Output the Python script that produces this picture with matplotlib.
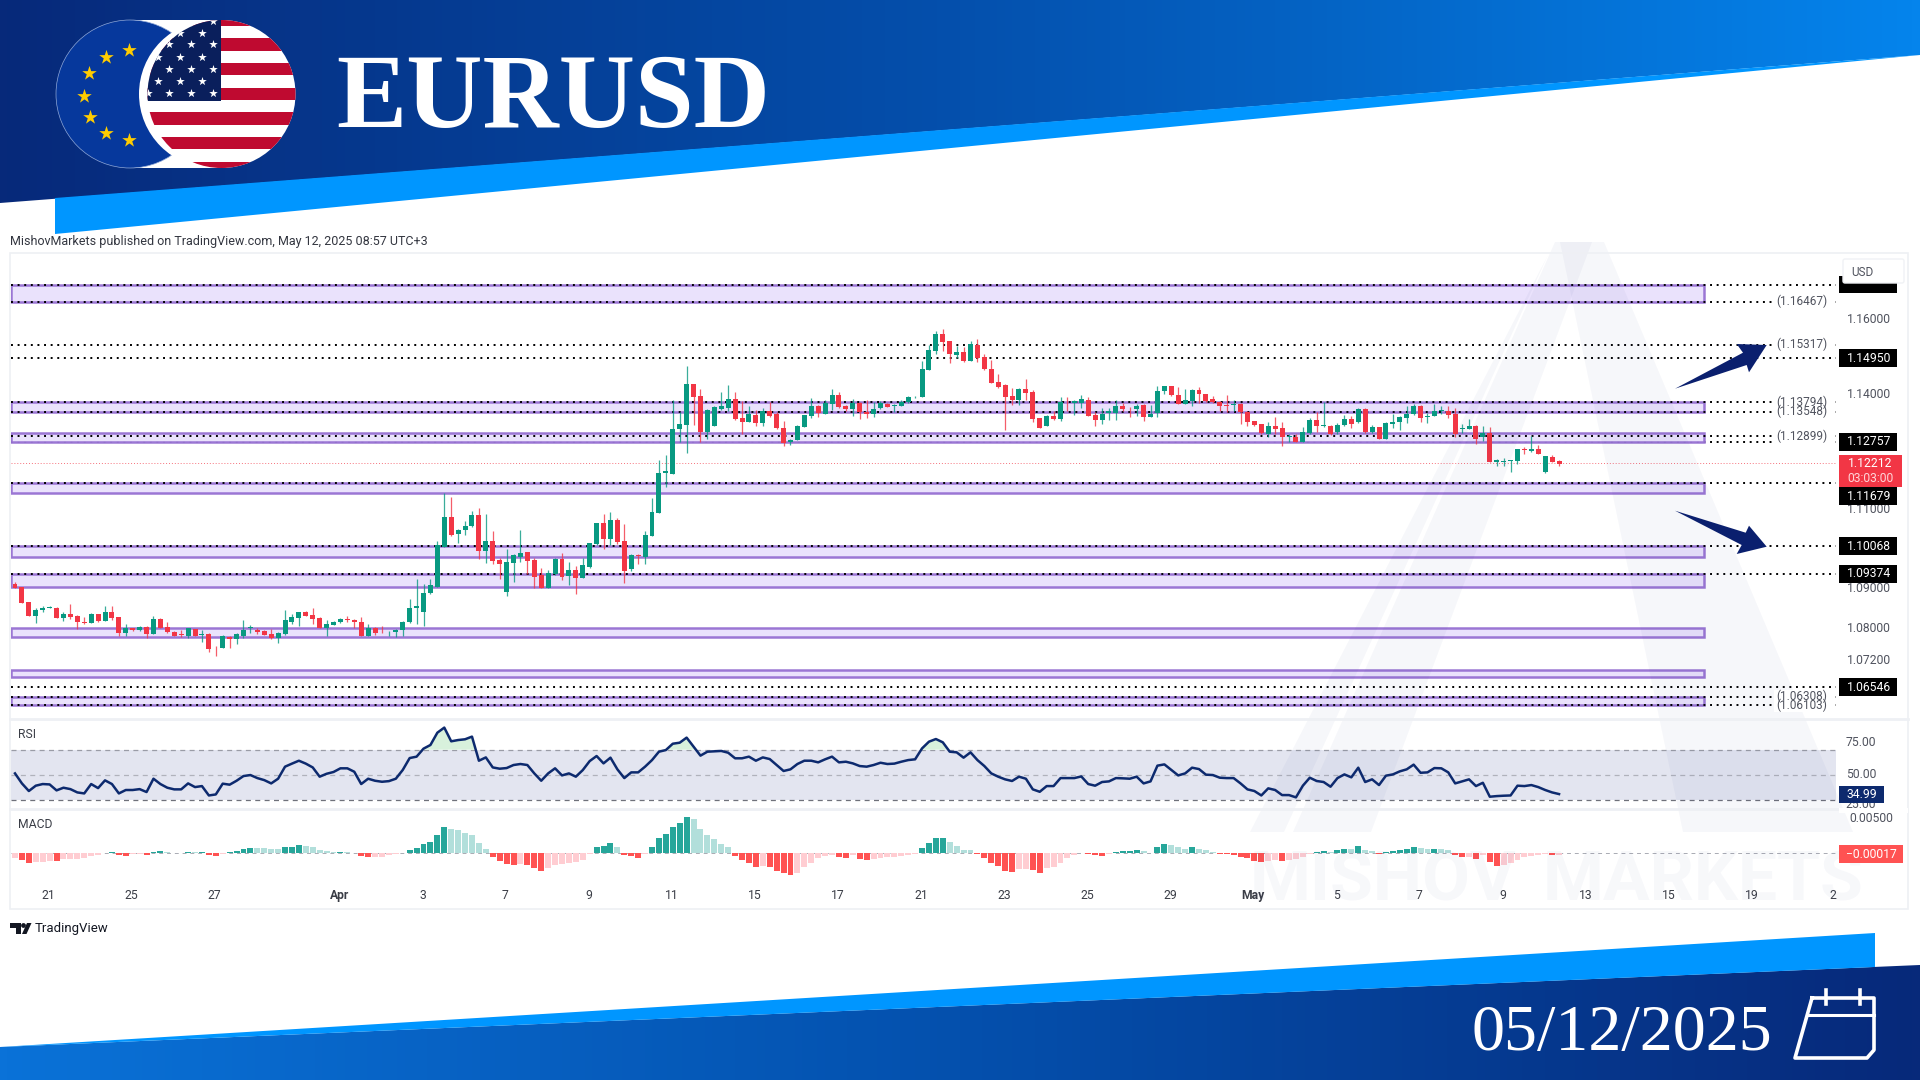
import numpy as np
import matplotlib
matplotlib.use("Agg")
import matplotlib.pyplot as plt
from matplotlib.colors import LinearSegmentedColormap
from matplotlib.patches import Polygon, Rectangle, Circle, FancyBboxPatch

plt.rcParams['font.family'] = ['Roboto', 'DejaVu Sans']

# 4h candles
opens = [
    1.0911, 1.0903, 1.0866, 1.0832, 1.0845, 1.0852, 1.0852, 1.0827, 1.0836, 1.0832,
    1.0817, 1.0813, 1.0836, 1.0819, 1.0842, 1.0828, 1.0789, 1.0800, 1.0797, 1.0804,
    1.0787, 1.0823, 1.0804, 1.0791, 1.0786, 1.0781, 1.0798, 1.0784, 1.0787, 1.0756,
    1.0752, 1.0779, 1.0773, 1.0780, 1.0800, 1.0797, 1.0794, 1.0786, 1.0777, 1.0786,
    1.0817, 1.0825, 1.0842, 1.0834, 1.0826, 1.0801, 1.0809, 1.0815, 1.0823, 1.0822,
    1.0815, 1.0782, 1.0801, 1.0792, 1.0790, 1.0790, 1.0795, 1.0815, 1.0852, 1.0842,
    1.0888, 1.0904, 1.1005, 1.1081, 1.1037, 1.1049, 1.1058, 1.1087, 1.0994, 1.1019,
    1.0972, 1.0890, 1.0965, 1.0980, 1.0991, 1.0972, 1.0933, 1.0902, 1.0936, 1.0975,
    1.0932, 1.0946, 1.0927, 1.0953, 1.1012, 1.1067, 1.1026, 1.1073, 1.1019, 1.0948,
    1.0985, 1.0980, 1.1034, 1.1092, 1.1194, 1.1191, 1.1308, 1.1319, 1.1428, 1.1396,
    1.1302, 1.1318, 1.1362, 1.1363, 1.1388, 1.1337, 1.1327, 1.1346, 1.1324, 1.1357,
    1.1347, 1.1312, 1.1276, 1.1281, 1.1314, 1.1343, 1.1369, 1.1349, 1.1374, 1.1399,
    1.1369, 1.1361, 1.1378, 1.1354, 1.1347, 1.1364, 1.1375, 1.1370, 1.1370, 1.1380,
    1.1393, 1.1394, 1.1465, 1.1515, 1.1559, 1.1541, 1.1505, 1.1513, 1.1488, 1.1531,
    1.1499, 1.1468, 1.1433, 1.1425, 1.1396, 1.1386, 1.1413, 1.1405, 1.1338, 1.1317,
    1.1343, 1.1334, 1.1380, 1.1378, 1.1377, 1.1385, 1.1346, 1.1332, 1.1352, 1.1350,
    1.1369, 1.1365, 1.1361, 1.1372, 1.1341, 1.1350, 1.1409, 1.1421, 1.1399, 1.1375,
    1.1382, 1.1411, 1.1401, 1.1388, 1.1381, 1.1372, 1.1372, 1.1375, 1.1354, 1.1330,
    1.1321, 1.1297, 1.1318, 1.1312, 1.1288, 1.1288, 1.1276, 1.1298, 1.1332, 1.1316,
    1.1318, 1.1302, 1.1319, 1.1335, 1.1326, 1.1361, 1.1300, 1.1313, 1.1283, 1.1321,
    1.1326, 1.1339, 1.1348, 1.1369, 1.1340, 1.1342, 1.1357, 1.1357, 1.1348, 1.1309,
    1.1309, 1.1317, 1.1287, 1.1298, 1.1224, 1.1224, 1.1226, 1.1225, 1.1256, 1.1251,
    1.1258, 1.1198, 1.1237, 1.1225,
]
closes = [
    1.0902, 1.0864, 1.0832, 1.0847, 1.0852, 1.0853, 1.0827, 1.0836, 1.0828, 1.0816,
    1.0813, 1.0836, 1.0819, 1.0841, 1.0826, 1.0789, 1.0801, 1.0797, 1.0803, 1.0787,
    1.0823, 1.0802, 1.0790, 1.0782, 1.0784, 1.0800, 1.0782, 1.0786, 1.0748, 1.0755,
    1.0782, 1.0773, 1.0786, 1.0797, 1.0803, 1.0792, 1.0784, 1.0776, 1.0789, 1.0820,
    1.0829, 1.0842, 1.0831, 1.0824, 1.0801, 1.0810, 1.0815, 1.0824, 1.0821, 1.0815,
    1.0781, 1.0800, 1.0789, 1.0790, 1.0792, 1.0797, 1.0817, 1.0852, 1.0855, 1.0889,
    1.0908, 1.1009, 1.1081, 1.1036, 1.1049, 1.1059, 1.1087, 1.0994, 1.1019, 1.0970,
    1.0962, 1.0966, 1.0985, 1.0990, 1.0970, 1.0930, 1.0902, 1.0938, 1.0975, 1.0930,
    1.0947, 1.0927, 1.0958, 1.1014, 1.1067, 1.1026, 1.1073, 1.1017, 1.0945, 1.0985,
    1.0981, 1.1035, 1.1094, 1.1195, 1.1201, 1.1310, 1.1321, 1.1428, 1.1394, 1.1302,
    1.1359, 1.1366, 1.1368, 1.1388, 1.1334, 1.1327, 1.1348, 1.1324, 1.1357, 1.1344,
    1.1311, 1.1272, 1.1280, 1.1316, 1.1346, 1.1370, 1.1350, 1.1377, 1.1399, 1.1367,
    1.1361, 1.1378, 1.1354, 1.1347, 1.1362, 1.1377, 1.1367, 1.1371, 1.1381, 1.1394,
    1.1394, 1.1466, 1.1516, 1.1559, 1.1539, 1.1506, 1.1512, 1.1488, 1.1532, 1.1497,
    1.1466, 1.1431, 1.1419, 1.1394, 1.1386, 1.1414, 1.1403, 1.1335, 1.1312, 1.1343,
    1.1334, 1.1380, 1.1379, 1.1382, 1.1388, 1.1344, 1.1333, 1.1348, 1.1355, 1.1368,
    1.1362, 1.1363, 1.1370, 1.1341, 1.1348, 1.1410, 1.1421, 1.1397, 1.1375, 1.1385,
    1.1411, 1.1400, 1.1382, 1.1379, 1.1369, 1.1370, 1.1374, 1.1354, 1.1326, 1.1319,
    1.1298, 1.1318, 1.1310, 1.1289, 1.1290, 1.1275, 1.1300, 1.1333, 1.1318, 1.1319,
    1.1295, 1.1320, 1.1336, 1.1321, 1.1361, 1.1300, 1.1313, 1.1283, 1.1324, 1.1327,
    1.1341, 1.1348, 1.1368, 1.1339, 1.1342, 1.1356, 1.1359, 1.1346, 1.1297, 1.1311,
    1.1316, 1.1284, 1.1298, 1.1223, 1.1228, 1.1226, 1.1227, 1.1256, 1.1253, 1.1258,
    1.1245, 1.1238, 1.1224, 1.1217,
]
highs = [
    1.0915, 1.0903, 1.0866, 1.0852, 1.0856, 1.0857, 1.0854, 1.0842, 1.0860, 1.0834,
    1.0828, 1.0838, 1.0836, 1.0857, 1.0855, 1.0828, 1.0811, 1.0802, 1.0806, 1.0805,
    1.0830, 1.0825, 1.0815, 1.0793, 1.0796, 1.0800, 1.0798, 1.0797, 1.0789, 1.0757,
    1.0784, 1.0780, 1.0788, 1.0821, 1.0808, 1.0800, 1.0797, 1.0799, 1.0791, 1.0845,
    1.0835, 1.0842, 1.0844, 1.0850, 1.0828, 1.0821, 1.0819, 1.0826, 1.0830, 1.0823,
    1.0829, 1.0812, 1.0803, 1.0807, 1.0794, 1.0798, 1.0819, 1.0873, 1.0925, 1.0910,
    1.0925, 1.1020, 1.1143, 1.1133, 1.1050, 1.1071, 1.1097, 1.1105, 1.1089, 1.1045,
    1.0976, 1.1000, 1.0987, 1.1049, 1.0992, 1.0977, 1.0951, 1.0947, 1.0978, 1.0990,
    1.0966, 1.0956, 1.0977, 1.1016, 1.1067, 1.1089, 1.1094, 1.1080, 1.1063, 1.0986,
    1.0986, 1.1045, 1.1130, 1.1228, 1.1242, 1.1384, 1.1353, 1.1475, 1.1428, 1.1414,
    1.1361, 1.1368, 1.1407, 1.1424, 1.1407, 1.1382, 1.1370, 1.1359, 1.1363, 1.1379,
    1.1353, 1.1329, 1.1284, 1.1320, 1.1346, 1.1391, 1.1371, 1.1385, 1.1414, 1.1407,
    1.1371, 1.1388, 1.1381, 1.1385, 1.1379, 1.1383, 1.1377, 1.1375, 1.1385, 1.1396,
    1.1396, 1.1487, 1.1531, 1.1568, 1.1572, 1.1541, 1.1528, 1.1524, 1.1541, 1.1546,
    1.1506, 1.1491, 1.1454, 1.1427, 1.1416, 1.1416, 1.1441, 1.1412, 1.1339, 1.1346,
    1.1355, 1.1393, 1.1393, 1.1385, 1.1397, 1.1393, 1.1353, 1.1365, 1.1365, 1.1386,
    1.1378, 1.1366, 1.1374, 1.1374, 1.1372, 1.1421, 1.1423, 1.1421, 1.1420, 1.1414,
    1.1413, 1.1420, 1.1402, 1.1396, 1.1383, 1.1399, 1.1386, 1.1378, 1.1355, 1.1331,
    1.1322, 1.1328, 1.1340, 1.1326, 1.1296, 1.1296, 1.1315, 1.1337, 1.1353, 1.1381,
    1.1319, 1.1324, 1.1346, 1.1344, 1.1363, 1.1363, 1.1319, 1.1315, 1.1326, 1.1348,
    1.1344, 1.1368, 1.1374, 1.1371, 1.1351, 1.1374, 1.1370, 1.1370, 1.1365, 1.1321,
    1.1335, 1.1319, 1.1318, 1.1315, 1.1230, 1.1233, 1.1228, 1.1258, 1.1262, 1.1290,
    1.1267, 1.1239, 1.1241, 1.1227,
]
lows = [
    1.0901, 1.0864, 1.0832, 1.0813, 1.0841, 1.0850, 1.0826, 1.0819, 1.0824, 1.0798,
    1.0811, 1.0813, 1.0816, 1.0819, 1.0822, 1.0782, 1.0782, 1.0794, 1.0794, 1.0776,
    1.0787, 1.0800, 1.0789, 1.0781, 1.0778, 1.0776, 1.0782, 1.0766, 1.0742, 1.0732,
    1.0752, 1.0752, 1.0760, 1.0777, 1.0789, 1.0787, 1.0783, 1.0774, 1.0763, 1.0784,
    1.0811, 1.0805, 1.0830, 1.0810, 1.0800, 1.0782, 1.0808, 1.0813, 1.0815, 1.0800,
    1.0780, 1.0781, 1.0783, 1.0789, 1.0782, 1.0779, 1.0782, 1.0814, 1.0810, 1.0805,
    1.0887, 1.0904, 1.1005, 1.1032, 1.1014, 1.1036, 1.1057, 1.0975, 1.0965, 1.0961,
    1.0923, 1.0882, 1.0917, 1.0967, 1.0936, 1.0900, 1.0900, 1.0901, 1.0934, 1.0922,
    1.0909, 1.0886, 1.0926, 1.0952, 1.1011, 1.1001, 1.1010, 1.1012, 1.0913, 1.0944,
    1.0963, 1.0963, 1.1034, 1.1091, 1.1159, 1.1191, 1.1275, 1.1246, 1.1319, 1.1276,
    1.1282, 1.1318, 1.1359, 1.1356, 1.1333, 1.1296, 1.1326, 1.1317, 1.1317, 1.1341,
    1.1309, 1.1265, 1.1267, 1.1280, 1.1313, 1.1339, 1.1341, 1.1348, 1.1359, 1.1363,
    1.1357, 1.1344, 1.1335, 1.1338, 1.1341, 1.1362, 1.1366, 1.1354, 1.1368, 1.1378,
    1.1391, 1.1394, 1.1463, 1.1506, 1.1515, 1.1482, 1.1495, 1.1485, 1.1487, 1.1485,
    1.1465, 1.1429, 1.1417, 1.1307, 1.1372, 1.1372, 1.1385, 1.1328, 1.1311, 1.1317,
    1.1333, 1.1330, 1.1355, 1.1346, 1.1363, 1.1344, 1.1317, 1.1321, 1.1333, 1.1333,
    1.1356, 1.1340, 1.1344, 1.1330, 1.1340, 1.1340, 1.1402, 1.1396, 1.1374, 1.1375,
    1.1369, 1.1376, 1.1380, 1.1377, 1.1355, 1.1353, 1.1355, 1.1321, 1.1318, 1.1318,
    1.1297, 1.1288, 1.1295, 1.1264, 1.1276, 1.1274, 1.1276, 1.1297, 1.1302, 1.1314,
    1.1293, 1.1295, 1.1318, 1.1311, 1.1325, 1.1298, 1.1298, 1.1282, 1.1282, 1.1312,
    1.1306, 1.1324, 1.1346, 1.1326, 1.1325, 1.1342, 1.1348, 1.1338, 1.1289, 1.1298,
    1.1308, 1.1270, 1.1278, 1.1222, 1.1212, 1.1214, 1.1196, 1.1219, 1.1244, 1.1250,
    1.1244, 1.1194, 1.1223, 1.1213,
]

rsi_values = [
    51.3, 43.4, 37.4, 41.6, 42.9, 42.6, 37.9, 40.0, 38.9, 36.3,
    35.5, 42.9, 39.7, 45.8, 42.9, 35.5, 38.2, 38.2, 38.9, 36.6,
    47.1, 42.9, 40.0, 38.7, 38.7, 43.4, 40.5, 41.3, 33.9, 34.7,
    43.2, 42.4, 45.5, 49.2, 50.0, 47.6, 46.0, 43.4, 47.1, 56.6,
    59.0, 61.3, 59.0, 56.0, 48.7, 51.0, 52.4, 55.3, 55.3, 52.6,
    42.9, 47.1, 45.5, 44.7, 45.2, 47.1, 54.0, 63.4, 64.5, 70.8,
    73.7, 83.4, 87.4, 76.6, 77.6, 78.2, 80.3, 61.3, 63.9, 56.0,
    55.0, 55.5, 57.9, 58.7,
    57.9, 51.3, 45.5, 51.3, 55.3, 49.7, 51.3, 48.7, 53.9, 61.0,
    65.0, 59.2, 63.7, 54.5, 47.6, 52.1, 52.1, 56.6, 61.8, 68.4,
    69.7, 74.7, 75.5, 79.5, 72.4, 65.3, 68.4, 68.7, 69.0, 67.6,
    63.2, 63.2, 64.5, 61.3, 63.9, 62.6, 57.9, 53.2, 54.5, 58.7,
    61.3, 61.3, 60.0, 62.4, 64.5, 60.0, 60.5, 59.2, 57.1, 56.6,
    57.9, 59.7, 58.7, 59.0, 60.5, 61.8, 62.4, 71.0, 76.3, 78.4,
    75.8, 68.4, 67.9, 63.7, 67.9, 61.8, 57.1, 51.3, 48.7,
    46.6, 45.3, 48.7, 47.1, 38.7, 36.8, 41.3, 41.3, 47.6, 47.6,
    47.6, 48.9, 42.9, 41.6, 44.5, 45.0, 47.6, 47.4, 47.1, 48.7,
    43.4, 45.0, 57.4, 58.4, 54.0, 49.7, 51.3, 55.8, 54.7, 50.3,
    50.0, 47.9, 47.6, 47.6, 43.4, 38.7, 37.4, 33.9, 39.5, 38.2,
    34.2, 34.2, 32.4, 41.6, 47.9, 45.3, 44.5, 40.8, 47.6, 50.5,
    48.2, 55.8, 44.5, 46.6, 42.1, 49.5, 50.5, 52.9, 54.5, 58.2,
    51.8, 52.1, 55.5, 55.3, 52.1, 43.4, 45.0, 46.6, 41.3, 43.9,
    32.9, 33.4, 33.7, 33.9, 41.6, 41.3, 42.1, 40.5, 38.2, 36.3,
    34.99,
]

# MACD histogram in units of 0.00001
macd_hist = [
    -70, -100, -150, -135, -125, -110, -120, -90, -85, -80,
    -75, -40, -30, 10, 20, -25, -35, -10, -5, -25,
    20, 40, 15, 5, 3, 25, 20, 25, -20, -35,
    -5, 20, 40, 70, 85, 75, 75, 60, 60, 90,
    100, 120, 110, 90, 50, 35, 20, 25, 15, 5,
    -35, -50, -50, -50, -25, -15, 5, 55, 85, 135,
    170, 275, 390, 370, 350, 310, 280, 150, 70, -50,
    -110, -165, -170, -165, -170, -215, -260, -225, -175, -165,
    -150, -135, -100, -15, 100, 105, 150, 100, -25, -45,
    -65, -5, 90, 225, 290, 390, 460, 540, 510, 360,
    275, 210, 140, 90, -35, -100, -150, -200, -190, -210,
    -260, -300, -325, -300,
    -210, -140, -75, -40, -20, -50, -65, -30, -80, -100,
    -85, -70, -60, -50, -40, -25, -10, 75, 150, 230,
    235, 175, 110, 50, 50, -10, -75, -140, -190,
    -260, -275, -230, -230, -250, -290, -225, -210, -150, -75,
    -25, 0, -15, -30, -35, -15, 20, 35, 40, 50,
    30, 10, 90, 135, 125, 90, 70, 90, 65, 45,
    15, -5, -15, -25, -50, -75, -110, -130, -110, -100,
    -120, -100, -80, -50, -10, 15, 35, 25, 50, 65,
    65, 105, 50, 30, -10, 20, 40, 55, 70, 100,
    85, 65, 70, 65, 45, -20, -55, -55, -85, -25,
    -130, -185, -180, -150, -100, -60, -35, -25, -10, -30,
    -30,
]

# purple zones (upper, lower price)
zones = [
    (1.1691, 1.16467), (1.13794, 1.13548), (1.12985, 1.12757), (1.11679, 1.11422),
    (1.10068, 1.09787), (1.09374, 1.09044), (1.08016, 1.07792), (1.06966, 1.06785),
    (1.06308, 1.06103),
]
dotted_levels = [1.1691, 1.16467, 1.15317, 1.14950, 1.13794, 1.13548, 1.12899,
                 1.11679, 1.10068, 1.09374, 1.06546, 1.06308, 1.06103]
grey_levels = [1.16467, 1.15317, 1.13794, 1.13548, 1.12899, 1.06308, 1.06103]
black_levels = [1.14950, 1.12757, 1.10068, 1.09374, 1.06546]
axis_prices = [1.16, 1.14, 1.12, 1.11, 1.09, 1.08, 1.072]
last_price = 1.12212
pushed_level = 1.11679

tick_pos = [4.84, 16.84, 28.84, 46.84, 58.84, 70.84, 82.84, 94.84, 106.84, 118.84, 130.84,
            142.84, 154.84, 166.84, 178.84, 190.84, 202.84, 214.84, 226.84, 238.84, 250.84, 262.5]
tick_labels = ['21', '25', '27', 'Apr', '3', '7', '9', '11', '15', '17', '21',
               '23', '25', '29', 'May', '5', '7', '9', '13', '15', '19', '2']

GREEN = '#089981'
RED = '#f23645'
GREY = '#50535e'
NAVY = '#0d2a6e'
W, H = 1920, 1080

fig = plt.figure(figsize=(19.2, 10.8), dpi=100, facecolor='white')


def px_axes(left, top, right, bottom, z):
    a = fig.add_axes([left / W, 1 - bottom / H, (right - left) / W, (bottom - top) / H], zorder=z)
    a.patch.set_visible(False)
    return a


XLIM = (-0.578, 263.0)
ZONE_END = 243.9

# main pane
ax = px_axes(11, 253, 1836, 718, 1)
ax.set_yscale('log')
ax.set_xlim(*XLIM)
ax.set_ylim(1.05786, 1.17783)
ax.axis('off')

ax.hlines(1.12757, *XLIM, colors='black', linestyles=(0, (1, 2.4)), lw=1.4, zorder=2)
for top, bottom in zones:
    ax.add_patch(Rectangle((XLIM[0], bottom), ZONE_END - XLIM[0], top - bottom, fc='#e9e1fc',
                           ec='#9670d2', lw=1.8, alpha=0.95, zorder=2.5))
ax.hlines(dotted_levels, *XLIM, colors='black', linestyles=(0, (1, 2.4)), lw=1.4, zorder=3)
ax.hlines(last_price, *XLIM, colors=RED, linestyles=(0, (1, 2)), lw=0.7, alpha=0.7, zorder=3)

# candles
idx = np.arange(len(opens))
o = np.array(opens)
c = np.array(closes)
colors = [GREEN if c_ >= o_ else RED for o_, c_ in zip(o, c)]
ax.vlines(idx, lows, highs, colors=colors, lw=0.9, alpha=0.8, zorder=4)
ax.bar(idx, np.abs(c - o), bottom=np.minimum(o, c), width=0.72, color=colors, lw=0, zorder=5)

# RSI pane
ax_rsi = px_axes(11, 720, 1836, 807, 2)
ax_rsi.set_xlim(*XLIM)
ax_rsi.set_ylim(24.8, 93.4)
ax_rsi.axis('off')
ax_rsi.axhspan(30, 70, fc='#e3e5f0', lw=0, zorder=1)
for lvl, col in [(70, '#9a9ca6'), (50, '#b0b2bb'), (30, '#6f717a')]:
    ax_rsi.axhline(lvl, color=col, lw=0.9, ls=(0, (4, 3.5)), zorder=2)
rsi = np.array(rsi_values)
x_rsi = np.arange(len(rsi))
ax_rsi.fill_between(x_rsi, 70, rsi, where=rsi > 70, interpolate=True, color='#d8f1dc', lw=0, zorder=2)
ax_rsi.plot(x_rsi, rsi, color=NAVY, lw=1.8, zorder=3)

# MACD pane, with the time axis under it
ax_macd = px_axes(11, 811, 1836, 886, 3)
ax_macd.set_xlim(*XLIM)
ax_macd.set_ylim(-0.0049, 0.006345)
for side in ax_macd.spines.values():
    side.set_visible(False)
ax_macd.set_yticks([])
ax_macd.set_xticks(tick_pos)
ax_macd.set_xticklabels(tick_labels, fontsize=8.7, color='#3a3d46')
ax_macd.tick_params(axis='x', length=0, pad=2.5)
for lab in ax_macd.get_xticklabels():
    if lab.get_text() in ('Apr', 'May'):
        lab.set_fontweight('bold')
ax_macd.axhline(0, color='#a9abb3', lw=0.7, ls=(0, (4, 4)), zorder=1)

hist = np.array(macd_hist) * 1e-5
bar_colors = []
for i, h in enumerate(hist):
    prev = hist[i - 1] if i > 0 else h
    if h >= 0:
        bar_colors.append('#26a69a' if h > prev else '#b2dfdb')
    else:
        bar_colors.append('#ff5252' if h < prev else '#ffcdd2')
ax_macd.bar(np.arange(len(hist)), hist, width=0.86, color=bar_colors, lw=0, zorder=2)

# everything else goes on a pixel overlay
ov = fig.add_axes([0, 0, 1, 1], zorder=10)
ov.patch.set_visible(False)
ov.axis('off')


def gradient(verts, colors_, z):
    cmap = LinearSegmentedColormap.from_list('g', colors_)
    patch = Polygon(verts, transform=ov.transData, fc='none', ec='none')
    ov.add_patch(patch)
    ys = [v[1] for v in verts]
    im = ov.imshow(np.linspace(0, 1, 512).reshape(1, -1), cmap=cmap, aspect='auto',
                   extent=[0, W, max(ys), min(ys)], zorder=z)
    im.set_clip_path(patch)


gradient([(0, 0), (W, 0), (W, 55), (0, 203)], ['#07297a', '#0450ad', '#0584ec'], 1)
ov.add_patch(Polygon([(55, 198), (W, 55), (55, 234)], fc='#0096ff', ec='none', zorder=1))
gradient([(0, 1047), (W, 965), (W, H), (0, H)], ['#0a72d8', '#0450ad', '#07297a'], 1)
ov.add_patch(Polygon([(0, 1047), (1875, 933), (1875, 967)], fc='#0096ff', ec='none', zorder=1))
ov.set_xlim(0, W)
ov.set_ylim(H, 0)

# flags
ov.add_patch(Rectangle((130, 20), 91, 148, fc='white', ec='none', zorder=2))
ov.add_patch(Circle((130, 94), 74, fc='#06389c', ec='#8fa8d8', lw=0.5, zorder=3))
eu_stars = [(129, 50), (106, 57), (89, 73), (84, 96), (90, 117), (106, 133), (129, 140)]
ov.scatter(*zip(*eu_stars), marker='*', s=120, c='#ffcc00', lw=0, zorder=3.5)
ov.add_patch(Circle((213, 94), 74, fc='white', ec='none', zorder=4))
us_clip = Circle((221.5, 94), 74, transform=ov.transData, fc='white', ec='none', zorder=5)
ov.add_patch(us_clip)
for k in range(13):
    if k % 2 == 0:
        r = ov.add_patch(Rectangle((140, 20 + (k - 0.5) * 12.33), 170, 12.33, fc='#bf0a30', ec='none', zorder=5.1))
        r.set_clip_path(us_clip)
cant = ov.add_patch(Rectangle((140, 15), 81, 86, fc='#0a1f5c', ec='none', zorder=5.2))
cant.set_clip_path(us_clip)
us_stars = [(213, 21), (180, 33), (202, 33), (169, 44), (191, 44), (213, 44), (158, 57), (180, 57), (202, 57),
            (169, 69), (191, 69), (213, 69), (158, 81), (180, 81), (202, 81), (148, 93), (169, 93), (191, 93), (213, 93)]
sc = ov.scatter(*zip(*us_stars), marker='*', s=42, c='white', lw=0, zorder=5.3)
sc.set_clip_path(us_clip)

ov.text(336, 101, 'EURUSD', family='Liberation Serif', weight='bold', fontsize=76, color='white',
        va='center', ha='left', zorder=6)
ov.text(1472, 1034, '05/12/2025', family='Liberation Serif', fontsize=47.5, color='white',
        va='center', ha='left', zorder=6)

# calendar icon
ov.plot([1812, 1874, 1874, 1867, 1795, 1812], [998, 998, 1050, 1058, 1058, 998], color='white', lw=2.6, zorder=6,
        solid_joinstyle='round')
ov.plot([1808, 1874], [1015, 1015], color='white', lw=2.2, zorder=6)
ov.plot([1826, 1826], [990, 1004], color='white', lw=2.6, zorder=6)
ov.plot([1860, 1860], [990, 1004], color='white', lw=2.6, zorder=6)

# watermark over the panes
WM = '#2a3a8a'
for pts in [
    [(1555, 242), (1592, 242), (1371, 832), (1293, 832)],
    [(1548, 255), (1284, 832), (1250, 832)],
    [(1560, 242), (1604, 242), (1853, 832), (1683, 832)],
]:
    ov.add_patch(Polygon(pts, fc=WM, ec='none', alpha=0.04, zorder=2))
ov.text(1250, 882, 'MISHOV', weight='bold', fontsize=50, color=WM, alpha=0.035, va='center', ha='left', zorder=2)
ov.text(1543, 882, 'MARKETS', weight='bold', fontsize=50, color=WM, alpha=0.035, va='center', ha='left', zorder=2)

# pane frame and separators
FRAME = '#eef0f4'
ov.add_patch(Rectangle((10, 253), 1898, 656, fc='none', ec=FRAME, lw=1.2, zorder=3))
ov.plot([10, 1908], [719, 719], color=FRAME, lw=2, zorder=3)
ov.plot([10, 1838], [808.5, 808.5], color=FRAME, lw=2, zorder=3)


def price_y(p):
    return ov.transData.inverted().transform(ax.transData.transform((0, p)))[1]


def box_label(text, y, fc, h=18):
    ov.add_patch(Rectangle((1839, y - h / 2), 58, h, fc=fc, ec='none', zorder=8))
    ov.text(1869, y, text, color='white', fontsize=8.7, va='center', ha='center', zorder=9)


# price axis
for p in axis_prices:
    ov.text(1869, price_y(p), f'{p:.5f}', color=GREY, fontsize=8.7, va='center', ha='center', zorder=6)
for p in grey_levels:
    ov.add_patch(Rectangle((1774, price_y(p) - 7), 58, 14, fc='white', ec='none', zorder=5))
for p in grey_levels:
    ov.text(1802, price_y(p), f'({p:.5f})', color=GREY, fontsize=8.5, va='center', ha='center', zorder=6)
for p in black_levels:
    box_label(f'{p:.5f}', price_y(p), 'black')
# this label is pushed down by the last price box
box_label(f'{pushed_level:.5f}', 496, 'black')

# hidden top label and the currency box
ov.add_patch(Rectangle((1839, 276), 58, 17, fc='black', ec='none', zorder=8))
ov.add_patch(FancyBboxPatch((1843, 259), 61, 24, boxstyle='round,pad=0,rounding_size=2', fc='white',
                            ec='#f0f2f5', lw=1, zorder=8.5))
ov.text(1862, 272, 'USD', color=GREY, fontsize=8.5, va='center', ha='center', zorder=9)

# last price box
ov.add_patch(Rectangle((1839, 455), 63, 32, fc=RED, ec='none', zorder=8.2))
ov.text(1870, 463.5, f'{last_price:.5f}', color='white', fontsize=8.7, va='center', ha='center', zorder=9)
ov.text(1871, 478.5, '03:03:00', color='#ffd5d8', fontsize=8.7, va='center', ha='center', zorder=9)

# forecast arrows
ARROW = '#0a1f6e'
ov.add_patch(Polygon([(1675, 388.7), (1746.7, 365), (1749, 372.3), (1766.7, 345), (1736.7, 344), (1743, 352.7)],
                     fc=ARROW, ec='none', zorder=6))
ov.add_patch(Polygon([(1675, 510.7), (1745.7, 532.7), (1749, 525.7), (1766.7, 546.7), (1736.7, 554), (1741.7, 545)],
                     fc=ARROW, ec='none', zorder=6))

# RSI and MACD scale
ov.text(1861, 743, '75.00', color=GREY, fontsize=8.7, va='center', ha='center', zorder=6)
ov.text(1861, 774, '50.00', color=GREY, fontsize=8.7, va='center', ha='center', zorder=6)
ov.text(1861, 805, '25.00', color=GREY, fontsize=8.7, va='center', ha='center', zorder=6)
ov.add_patch(Rectangle((1839, 808), 69, 5, fc='white', ec='none', zorder=7))
ov.add_patch(Rectangle((1839, 786), 45, 17, fc=NAVY, ec='none', zorder=8))
ov.text(1861.5, 794.5, f'{rsi[-1]:.2f}', color='white', fontsize=8.7, va='center', ha='center', zorder=9)
ov.text(1871, 819, '0.00500', color=GREY, fontsize=8.7, va='center', ha='center', zorder=6)
ov.add_patch(Rectangle((1839, 845), 64, 18, fc='#ff5252', ec='none', zorder=8))
ov.text(1871, 854, '\u22120.00017', color='white', fontsize=8.7, va='center', ha='center', zorder=9)

ov.text(18, 734, 'RSI', color='#3a3d46', fontsize=8.7, va='center', ha='left', zorder=6)
ov.text(18, 825, 'MACD', color='#3a3d46', fontsize=8.7, va='center', ha='left', zorder=6)

# captions
ov.text(10, 241, 'MishovMarkets published on TradingView.com, May 12, 2025 08:57 UTC+3', color='#333640',
        fontsize=9, va='center', ha='left', zorder=6)
ov.add_patch(Polygon([(10, 923), (21, 923), (21, 934), (15.5, 934), (15.5, 928), (10, 928)], fc='#131722', ec='none', zorder=6))
ov.add_patch(Circle((23.5, 925.5), 2.4, fc='#131722', ec='none', zorder=6))
ov.add_patch(Polygon([(27, 923), (31.5, 923), (26.5, 934), (22, 934)], fc='#131722', ec='none', zorder=6))
ov.text(35, 928.5, 'TradingView', color='#131722', fontsize=9.5, va='center', ha='left', zorder=6)

fig.savefig('out.png', dpi=100)
